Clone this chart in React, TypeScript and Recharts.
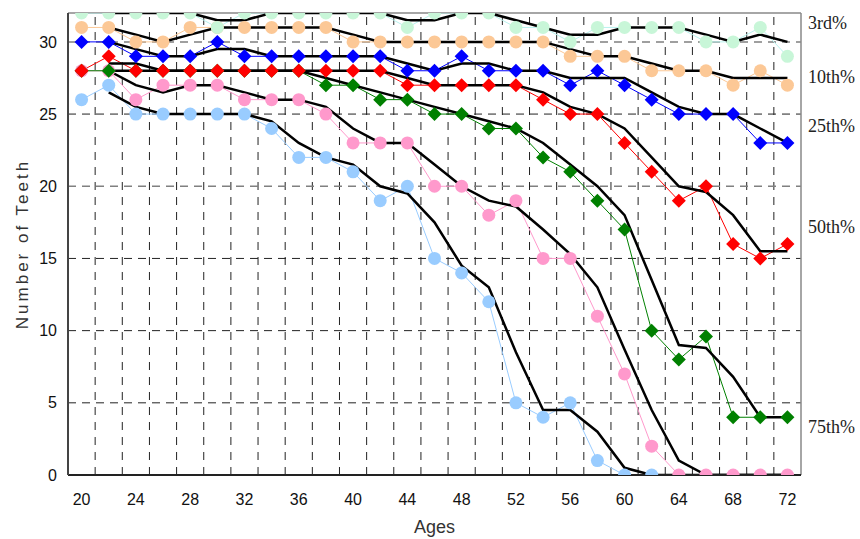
import { LineChart, Line, XAxis, YAxis, ReferenceLine } from "recharts";

const ages = [20, 22, 24, 26, 28, 30, 32, 34, 36, 38, 40, 42, 44, 46, 48, 50, 52, 54, 56, 58, 60, 62, 64, 66, 68, 70, 72];
const xTicks = [20, 24, 28, 32, 36, 40, 44, 48, 52, 56, 60, 64, 68, 72];
const yTicks = [0, 5, 10, 15, 20, 25, 30];
const gridAges = [21, 23, 25, 27, 29, 31, 33, 35, 37, 39, 41, 43, 45, 47, 49, 51, 53, 55, 57, 59, 61, 63, 65, 67, 69, 71];

// observed groups
const mint = [32, 32, 32, 32, 32, 31, 32, 32, 32, 32, 32, 32, 31, 32, 32, 32, 31, 31, 30, 31, 31, 31, 31, 30, 30, 31, 29];
const peach = [31, 31, 30, 30, 31, 31, 31, 31, 31, 31, 30, 30, 30, 30, 30, 30, 30, 30, 29, 29, 29, 28, 28, 28, 27, 28, 27];
const blue = [30, 30, 29, 29, 29, 30, 29, 29, 29, 29, 29, 29, 28, 28, 29, 28, 28, 28, 27, 28, 27, 26, 25, 25, 25, 23, 23];
const red = [28, 29, 28, 28, 28, 28, 28, 28, 28, 28, 28, 28, 27, 27, 27, 27, 27, 26, 25, 25, 23, 21, 19, 20, 16, 15, 16];
const green = [28, 28, 28, 28, 28, 28, 28, 28, 28, 27, 27, 26, 26, 25, 25, 24, 24, 22, 21, 19, 17, 10, 8, 9.6, 4, 4, 4];
const pink = [28, 28, 26, 27, 27, 27, 26, 26, 26, 25, 23, 23, 23, 20, 20, 18, 19, 15, 15, 11, 7, 2, 0, 0, 0, 0, 0];
const sky = [26, 27, 25, 25, 25, 25, 25, 24, 22, 22, 21, 19, 20, 15, 14, 12, 5, 4, 5, 1, 0, 0, null, null, null, null, null];

// fitted percentile curves
const fit1 = [null, 32, 32, 32, 32, 31.5, 31.5, 32, 32, 32, 32, 32, 31.5, 31.5, 32, 32, 31.5, 31, 30.5, 30.5, 31, 31, 31, 30.5, 30, 30.5, 30];
const fit2 = [null, 31, 30.5, 30, 30.5, 31, 31, 31, 31, 31, 30.5, 30, 30, 30, 30, 30, 30, 30, 29.5, 29, 29, 28.5, 28, 28, 27.5, 27.5, 27.5];
const fit3 = [null, 30, 29.5, 29, 29, 29.5, 29.5, 29, 29, 29, 29, 29, 28.5, 28, 28.5, 28.5, 28, 28, 27.5, 27.5, 27.5, 26.5, 25.5, 25, 25, 24, 23];
const fit4 = [null, 28.5, 28.5, 28, 28, 28, 28, 28, 28, 28, 28, 28, 27.5, 27, 27, 27, 27, 26.5, 25.5, 25, 24, 22, 20, 19.6, 18, 15.5, 15.5];
const fit5 = [null, 28, 28, 28, 28, 28, 28, 28, 28, 27.5, 27, 26.5, 26, 25.5, 25, 24.5, 24, 23, 21.5, 20, 18, 13.5, 9, 8.8, 6.8, 4, 4];
const fit6 = [null, 28, 27, 26.5, 27, 27, 26.5, 26, 26, 25.5, 24, 23, 23, 21.5, 20, 19, 18.6, 17, 15.3, 13, 8.7, 4.5, 1, 0, 0, 0, 0];
const fit7 = [null, 26.5, 25.5, 25, 25, 25, 25, 24.5, 23, 22, 21.5, 20, 19.5, 17.5, 14.5, 13, 8.5, 4.5, 4.5, 3, 0.5, 0, 0, 0, 0, 0, 0];

const pctLabels = [
  { text: "3rd%", top: 13 },
  { text: "10th%", top: 67 },
  { text: "25th%", top: 116 },
  { text: "50th%", top: 217 },
  { text: "75th%", top: 417 },
];

const rows = ages.map((age, i) => ({
  age,
  mint: mint[i],
  peach: peach[i],
  blue: blue[i],
  red: red[i],
  green: green[i],
  pink: pink[i],
  sky: sky[i],
  fit1: fit1[i],
  fit2: fit2[i],
  fit3: fit3[i],
  fit4: fit4[i],
  fit5: fit5[i],
  fit6: fit6[i],
  fit7: fit7[i],
}));

const circleDot = (fill: string) => (props: any) => {
  const { cx, cy, index } = props;
  if (cx == null || cy == null || props.value == null) return <g key={index} />;
  return <circle key={index} cx={cx} cy={cy} r={6.5} fill={fill} />;
};

const diamondDot = (fill: string) => (props: any) => {
  const { cx, cy, index } = props;
  if (cx == null || cy == null || props.value == null) return <g key={index} />;
  const s = 7;
  return (
    <path
      key={index}
      d={`M${cx},${cy - s}L${cx + s},${cy}L${cx},${cy + s}L${cx - s},${cy}Z`}
      fill={fill}
    />
  );
};

const observed = [
  { key: "sky", color: "#99ccff", dot: circleDot("#99ccff") },
  { key: "pink", color: "#ff99cc", dot: circleDot("#ff99cc") },
  { key: "peach", color: "#fcc896", dot: circleDot("#fcc896") },
  { key: "mint", color: "#b8f2ee", dot: circleDot("#c8f6d8") },
  { key: "green", color: "#008000", dot: diamondDot("#008000") },
  { key: "red", color: "#ff0000", dot: diamondDot("#ff0000") },
  { key: "blue", color: "#0000ff", dot: diamondDot("#0000ff") },
];

const fits = ["fit7", "fit6", "fit5", "fit4", "fit3", "fit2", "fit1"];

const YLabel = (props: any) => {
  const { viewBox } = props;
  const x = viewBox.x + 22;
  const y = viewBox.y + viewBox.height / 2;
  return (
    <text
      x={x}
      y={y}
      transform={`rotate(-90 ${x} ${y})`}
      textAnchor="middle"
      dominantBaseline="central"
      fill="#333"
      fontSize={17}
      letterSpacing={3}
      fontFamily="Liberation Sans, Arial, sans-serif"
    >
      Number of Teeth
    </text>
  );
};

export default function App() {
  return (
    <div style={{ position: "absolute", left: 0, top: 0, width: 860, height: 539, background: "#fff" }}>
      <LineChart
        width={860}
        height={539}
        data={rows}
        margin={{ top: 13, right: 59, bottom: 0, left: 0 }}
      >
        <XAxis
          dataKey="age"
          type="number"
          domain={[19, 73]}
          ticks={xTicks}
          allowDataOverflow
          height={64}
          tickLine={false}
          tickMargin={13}
          stroke="#222"
          strokeWidth={2}
          tick={{ fill: "#111", fontSize: 16, fontFamily: "Liberation Sans, Arial, sans-serif" }}
          label={{
            value: "Ages",
            position: "insideBottom",
            offset: 6,
            fill: "#333",
            fontSize: 18,
            fontFamily: "Liberation Sans, Arial, sans-serif",
          }}
        />
        <YAxis
          type="number"
          domain={[0, 32]}
          ticks={yTicks}
          allowDataOverflow
          width={68}
          tickLine={false}
          tickMargin={5}
          stroke="#444"
          strokeWidth={2}
          tick={{ fill: "#111", fontSize: 16, fontFamily: "Liberation Sans, Arial, sans-serif" }}
          label={<YLabel />}
        />
        {gridAges.map((a) => (
          <ReferenceLine key={`v${a}`} x={a} stroke="#222" strokeWidth={1} strokeDasharray="8 7" />
        ))}
        <ReferenceLine y={5} stroke="#222" strokeDasharray="8 6" />
        <ReferenceLine y={10} stroke="#222" strokeDasharray="8 6" />
        <ReferenceLine y={15} stroke="#222" strokeDasharray="8 6" />
        <ReferenceLine y={20} stroke="#808080" strokeWidth={1.5} strokeDasharray="8 6" />
        <ReferenceLine y={25} stroke="#222" strokeDasharray="8 6" />
        <ReferenceLine y={30} stroke="#808080" strokeWidth={1.5} strokeDasharray="8 6" />
        <ReferenceLine y={32} stroke="#888" strokeWidth={1.5} />
        <ReferenceLine x={73} stroke="#888" strokeWidth={1.5} />
        {observed.map((s) => (
          <Line
            key={s.key}
            dataKey={s.key}
            type="linear"
            stroke={s.color}
            strokeWidth={1}
            dot={s.dot}
            activeDot={false}
            isAnimationActive={false}
          />
        ))}
        {fits.map((k) => (
          <Line
            key={k}
            dataKey={k}
            type="linear"
            stroke="#000"
            strokeWidth={2.5}
            dot={false}
            activeDot={false}
            isAnimationActive={false}
          />
        ))}
      </LineChart>
      {pctLabels.map((l) => (
        <div
          key={l.text}
          style={{
            position: "absolute",
            left: 808,
            top: l.top,
            fontFamily: "Liberation Serif, Times New Roman, serif",
            fontSize: 18,
            lineHeight: "20px",
            color: "#222",
          }}
        >
          {l.text}
        </div>
      ))}
    </div>
  );
}
